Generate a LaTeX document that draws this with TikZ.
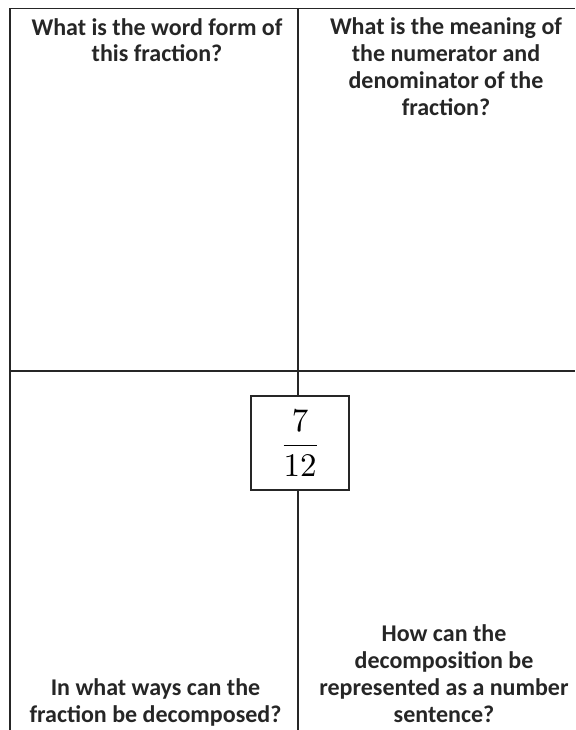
\documentclass[tikz,border=0pt]{standalone}
\usepackage{graphicx}
\usepackage{fontspec}
\setmainfont{Carlito}
\begin{document}
\begin{tikzpicture}[x=1pt,y=-1pt,
  grid/.style={draw=black!85, line width=1.3pt},
  qtext/.style={font=\fontsize{24}{26.8}\selectfont\bfseries, align=center, inner sep=0pt, anchor=base, text=black!85},
  fracbox/.style={draw=black!85, line width=1.3pt, fill=white, minimum width=98pt, minimum height=94pt, inner sep=0pt}]
\useasboundingbox (0,0) rectangle (575,730);
\coordinate (tl) at (10,8.5);
\coordinate (tr) at (575,8.5);
\coordinate (bl) at (10,730);
\coordinate (ml) at (10,371);
\coordinate (mr) at (575,371);
\coordinate (mt) at (298,8.5);
\coordinate (mb) at (298,730);
\draw[grid] (bl) -- (tl) -- (tr);
\draw[grid] (ml) -- (mr);
\draw[grid] (mt) -- (mb);
\node[fracbox] (frac) at (300,443) {\scalebox{3.3}{$\displaystyle\frac{7}{12}$}};
\node[qtext] (q1) at (157,62) {What is the word form of\\this fraction?};
\node[qtext] (q2) at (446,115.4) {What is the meaning of\\the numerator and\\denominator of the\\fraction?};
\node[qtext] (q3) at (155.5,722) {In what ways can the\\fraction be decomposed?};
\node[qtext] (q4) at (444,722) {How can the\\decomposition be\\represented as a number\\sentence?};
\end{tikzpicture}
\end{document}
